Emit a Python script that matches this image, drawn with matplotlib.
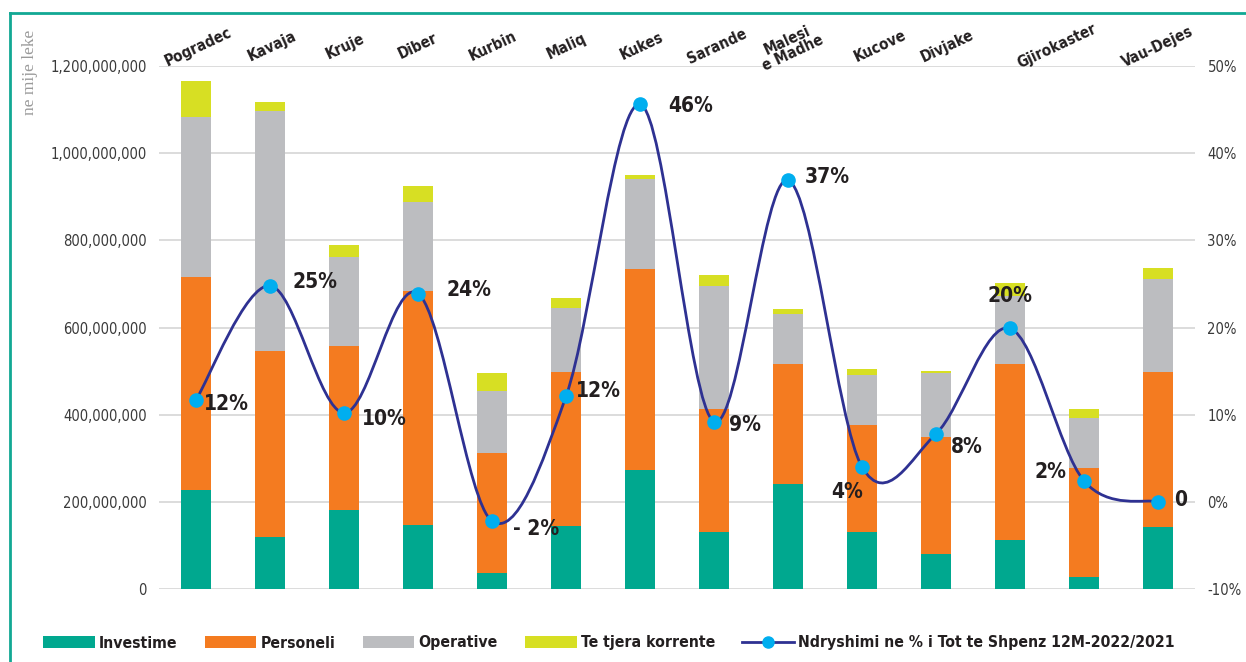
import numpy as np
import matplotlib
matplotlib.use("Agg")
import matplotlib.pyplot as plt
from matplotlib import font_manager as fm
from matplotlib.patches import Patch, PathPatch
from matplotlib.lines import Line2D
from matplotlib.path import Path
from matplotlib.ticker import FuncFormatter, MultipleLocator

# ---------------- data ----------------
categories = ["Pogradec", "Kavaja", "Kruje", "Diber", "Kurbin", "Maliq", "Kukes",
              "Sarande", "Malesi\ne Madhe", "Kucove", "Divjake", "Gjirokaster", "", "Vau-Dejes"]
investime = [227, 120, 181, 146, 36, 145, 272, 130, 240, 130, 81, 112, 28, 142]        # million leke
personeli = [489, 425, 376, 537, 277, 354, 463, 282, 277, 247, 268, 404, 250, 357]
operative = [366, 551, 205, 206, 141, 146, 205, 283, 113, 113, 146, 157, 115, 212]
te_tjera = [84, 22, 28, 36, 42, 23, 10, 25, 13, 15, 6, 28, 19, 26]
ndryshimi = [11.7, 24.8, 10.2, 23.9, -2.2, 12.1, 45.6, 9.2, 36.9, 4.0, 7.8, 19.9, 2.4, 0.0]  # %

series_names = ["Investime", "Personeli", "Operative", "Te tjera korrente"]
line_name = "Ndryshimi ne % i Tot te Shpenz 12M-2022/2021"
y_label = "ne mije leke"

# ---------------- fonts ----------------
_fonts = fm.fontManager.ttflist
_names = {f.name for f in _fonts}
STRETCH = "normal"
if "Liberation Sans Narrow" in _names:
    NARROW = ["Liberation Sans Narrow", "DejaVu Sans"]
    FS = 1.16
elif "DejaVu Sans Condensed" in _names:
    NARROW = ["DejaVu Sans Condensed", "DejaVu Sans"]
    FS = 1.0
elif any(f.name == "DejaVu Sans" and f.stretch in ("condensed", "semi-condensed") for f in _fonts):
    NARROW = ["DejaVu Sans"]
    STRETCH = "condensed"
    FS = 1.0
else:
    NARROW = ["Roboto", "DejaVu Sans"]
    FS = 1.0

SZ_TICK = 10.6 * FS
SZ_DATA = 15.0 * FS
SZ_CAT = 10.9 * FS
SZ_LEG = 11.3 * FS

# ---------------- style ----------------
C_GREEN = "#00A88F"
C_ORANGE = "#F47B20"
C_GRAY = "#BCBDC0"
C_YELLOW = "#D7DF23"
C_LINE = "#2E3192"
C_MARK = "#00AEEF"
C_TEXT = "#231F20"
C_FRAME = "#12A894"

W, H = 1246, 662
fig = plt.figure(figsize=(W / 100, H / 100), dpi=100)
fig.patch.set_facecolor("white")

ax = fig.add_axes([159 / W, 1 - 589 / H, (1195 - 159) / W, (589 - 66) / H])
ax2 = ax.twinx()
ax2.set_position(ax.get_position())

n = len(categories)
x = np.arange(n)
scale = 1e6
inv = np.array(investime) * scale
per = np.array(personeli) * scale
ope = np.array(operative) * scale
oth = np.array(te_tjera) * scale

bw = 0.405
ax.bar(x, inv, bw, color=C_GREEN, zorder=2)
ax.bar(x, per, bw, bottom=inv, color=C_ORANGE, zorder=2)
ax.bar(x, ope, bw, bottom=inv + per, color=C_GRAY, zorder=2)
ax.bar(x, oth, bw, bottom=inv + per + ope, color=C_YELLOW, zorder=2)

ax.set_xlim(-0.5, n - 0.5)
ax.set_ylim(0, 1.2e9)
ax.yaxis.set_major_locator(MultipleLocator(2e8))
ax.yaxis.set_major_formatter(FuncFormatter(lambda v, p: f"{v:,.0f}"))
ax.grid(axis="y", color="#DCDCDC", lw=1.4, zorder=0)
ax.set_axisbelow(True)
ax.set_xticks([])
for s in ax.spines.values():
    s.set_visible(False)
ax.tick_params(axis="y", length=0, pad=9, labelsize=SZ_TICK, labelcolor="#3A3A3A")
for t in ax.get_yticklabels():
    t.set_family(NARROW)
    t.set_stretch(STRETCH)

ax2.set_ylim(-10, 50)
ax2.yaxis.set_major_locator(MultipleLocator(10))
ax2.yaxis.set_major_formatter(FuncFormatter(lambda v, p: f"{v:.0f}%"))
for s in ax2.spines.values():
    s.set_visible(False)
ax2.tick_params(axis="y", length=0, pad=9, labelsize=SZ_TICK, labelcolor="#3A3A3A")
for t in ax2.get_yticklabels():
    t.set_family(NARROW)
    t.set_stretch(STRETCH)

# smoothed line (Excel-style Bezier through the points, computed in display space)
yv = np.array(ndryshimi)
P = ax2.transData.transform(np.column_stack([x, yv]))
verts = [P[0]]
codes = [Path.MOVETO]
for i in range(n - 1):
    p0 = P[i - 1] if i > 0 else P[i]
    p1, p2 = P[i], P[i + 1]
    p3 = P[i + 2] if i + 2 < n else P[i + 1]
    c1 = p1 + (p2 - p0) / 6.0
    c2 = p2 - (p3 - p1) / 6.0
    verts += [c1, c2, p2]
    codes += [Path.CURVE4] * 3
verts = ax2.transData.inverted().transform(np.array(verts))
ax2.add_patch(PathPatch(Path(verts, codes), facecolor="none", edgecolor=C_LINE,
                        lw=2.0, zorder=3, transform=ax2.transData))
ax2.plot(x, yv, "o", ms=9.5, color=C_MARK, zorder=4)

# data labels: (dx px, dy px downwards, alignment)
lab_style = [(8, 4, "left"), (23, -4, "left"), (18, 6, "left"), (28, -4, "left"),
             (21, 8, "left"), (10, -5, "left"), (28, 2, "left"), (15, 3, "left"),
             (17, -3, "left"), (-15, 25, "center"), (15, 13, "left"), (0, -32, "center"),
             (-18, -9, "right"), (16, -2, "left")]


def fmt(v):
    r = int(round(v))
    if r == 0:
        return "0"
    if r < 0:
        return f"- {abs(r)}%"
    return f"{r}%"


for xi, v, (dx, dy, ha) in zip(x, yv, lab_style):
    ax2.annotate(fmt(v), (xi, v), xytext=(dx * 0.72, -dy * 0.72), textcoords="offset points",
                 ha=ha, va="center", fontsize=SZ_DATA, fontweight="bold", color=C_TEXT,
                 family=NARROW, fontstretch=STRETCH, zorder=5)

# category labels along the top (rotated)
label_shift = [0.03, 0.03, 0.01, 0.0, 0.01, 0.01, 0.03, 0.04, 0.03, 0.25, 0.15, 0.64, 0.0, 0.0]
for xi, name, sh in zip(x, categories, label_shift):
    if not name:
        continue
    ax.annotate(name, (xi + sh, 1.0), xycoords=("data", "axes fraction"),
                xytext=(0, 14), textcoords="offset points", ha="center", va="center",
                rotation=25, rotation_mode="anchor", fontsize=SZ_CAT, fontweight="bold",
                color=C_TEXT, family=NARROW, fontstretch=STRETCH, linespacing=0.95)

# y-axis caption
fig.text(30 / W, 1 - 72 / H, y_label, rotation=90, ha="center", va="center",
         family=["Liberation Serif", "DejaVu Serif"], fontsize=12.5, color="#9A9A9A")

# legend
handles = [Patch(facecolor=C_GREEN), Patch(facecolor=C_ORANGE), Patch(facecolor=C_GRAY),
           Patch(facecolor=C_YELLOW),
           Line2D([0], [0], color=C_LINE, lw=2.0, marker="o", ms=8, mfc=C_MARK, mec=C_MARK)]
leg = fig.legend(handles, series_names + [line_name], loc="center left",
                 bbox_to_anchor=(43 / W, 1 - 643 / H), ncol=5, frameon=False,
                 handlelength=3.3, handleheight=0.85, handletextpad=0.25, columnspacing=1.75,
                 borderpad=0, borderaxespad=0,
                 prop={"family": NARROW, "weight": "bold", "size": SZ_LEG, "stretch": STRETCH})
for t in leg.get_texts():
    t.set_color(C_TEXT)

# teal frame (left and top edges)
xl = 10 / W
yt = 1 - 13 / H
fig.add_artist(Line2D([xl, xl], [0, yt], transform=fig.transFigure, color=C_FRAME, lw=2.0))
fig.add_artist(Line2D([xl, 1], [yt, yt], transform=fig.transFigure, color=C_FRAME, lw=2.0))

fig.savefig("out.png", dpi=100, facecolor="white")
